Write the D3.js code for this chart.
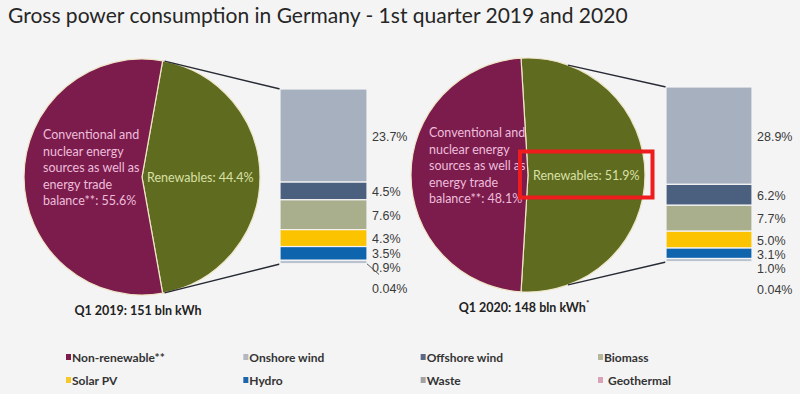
<!DOCTYPE html>
<html>
<head>
<meta charset="utf-8">
<script src="https://cdn.jsdelivr.net/npm/d3@7"></script>
<style>
  body { margin: 0; background: #f4f4f4; }
  svg { display: block; }
</style>
</head>
<body>
<div id="chart"></div>
<script>
// data
var periods = ["Q1 2019", "Q1 2020"];
var totals = ["151 bln kWh", "148 bln kWh"];
var renewables = [44.4, 51.9];
var nonRenewable = [55.6, 48.1];
var sources = ["Onshore wind", "Offshore wind", "Biomass", "Solar PV", "Hydro", "Waste", "Geothermal"];
var share2019 = [23.7, 4.5, 7.6, 4.3, 3.5, 0.9, 0.04];
var share2020 = [28.9, 6.2, 7.7, 5.0, 3.1, 1.0, 0.04];
var shareLabels2019 = ["23.7%", "4.5%", "7.6%", "4.3%", "3.5%", "0.9%", "0.04%"];
var shareLabels2020 = ["28.9%", "6.2%", "7.7%", "5.0%", "3.1%", "1.0%", "0.04%"];
var legendNames = ["Non-renewable**", "Onshore wind", "Offshore wind", "Biomass", "Solar PV", "Hydro", "Waste", "Geothermal"];

var width = 800, height = 394;

var colNonRen = "#7b1c4c", colRen = "#5f6b1f";
var barColors = ["#a6b0bf", "#4b5f7f", "#a9ae8d", "#fbc300", "#0f64ae", "#b9c3cf", "#d8a3b6"];
var legendColors = ["#7b1c4c", "#b4b8be", "#5d6a86", "#b5b79c", "#f6c92a", "#1c65ad", "#a3a3a3", "#d8a3b6"];

var svg = d3.select("#chart").append("svg")
    .attr("width", width)
    .attr("height", height);

svg.append("rect").attr("width", width).attr("height", height).attr("fill", "#f4f4f4");

svg.append("text")
    .attr("x", 8)
    .attr("y", 23)
    .style("font-family", "Lato, 'Open Sans', sans-serif")
    .style("font-size", "21px")
    .style("fill", "#262626")
    .text("Gross power consumption in Germany - 1st quarter 2019 and 2020");

// layout of the two panels
var panels = [
    {cx: 142, cy: 177, r: 118, barX: 280, barW: 87, barTop: 89, connAngle: 11, leader: true, highlight: false, shares: share2019, labels: shareLabels2019, capY: 310},
    {cx: 528, cy: 175, r: 117, barX: 666, barW: 86, barTop: 87, connAngle: 20, leader: false, highlight: true, shares: share2020, labels: shareLabels2020, capY: 307}
];
var barH = 175;

panels.forEach(function(p, i) {
    var g = svg.append("g");
    var total = d3.sum(p.shares);

    // pie, renewables slice centred on the right
    var frac = renewables[i] / 100;
    var start = Math.PI / 2 - frac * Math.PI;
    var pie = d3.pie().sort(null).startAngle(start).endAngle(start + 2 * Math.PI);
    var arcs = pie([renewables[i], nonRenewable[i]]);
    var arc = d3.arc().innerRadius(0).outerRadius(p.r);

    g.selectAll("path.slice")
        .data(arcs)
        .enter().append("path")
        .attr("class", "slice")
        .attr("transform", "translate(" + p.cx + "," + p.cy + ")")
        .attr("d", arc)
        .attr("fill", function(d, k) { return k == 0 ? colRen : colNonRen; })
        .attr("stroke", "#efe6c8")
        .attr("stroke-width", 1.2);

    // stacked bar of renewables
    var y = d3.scaleLinear().domain([0, total]).range([p.barTop, p.barTop + barH]);
    var stack = [];
    var acc = 0;
    p.shares.forEach(function(v, k) {
        stack.push({v: v, y0: acc, y1: acc + v, k: k});
        acc += v;
    });

    // connector lines pie -> bar
    var a = p.connAngle * Math.PI / 180;
    var topPt = [p.cx + p.r * Math.sin(a), p.cy - p.r * Math.cos(a)];
    var botPt = [p.cx + p.r * Math.sin(a), p.cy + p.r * Math.cos(a)];
    g.append("line")
        .attr("x1", topPt[0]).attr("y1", topPt[1])
        .attr("x2", p.barX).attr("y2", y(0))
        .attr("stroke", "#262a33").attr("stroke-width", 1.3);
    g.append("line")
        .attr("x1", botPt[0]).attr("y1", botPt[1])
        .attr("x2", p.barX).attr("y2", y(total))
        .attr("stroke", "#262a33").attr("stroke-width", 1.3);

    g.selectAll("rect.seg")
        .data(stack)
        .enter().append("rect")
        .attr("class", "seg")
        .attr("x", p.barX)
        .attr("width", p.barW)
        .attr("y", function(d) { return y(d.y0); })
        .attr("height", function(d) { return Math.max(0.6, y(d.y1) - y(d.y0)); })
        .attr("fill", function(d) { return barColors[d.k]; })
        .attr("stroke", "#f4f4f4")
        .attr("stroke-width", 1.2);

    // labels: segment centres, pushed down so they do not overlap
    var ly = [];
    stack.forEach(function(d, k) {
        var c = (y(d.y0) + y(d.y1)) / 2 + 5;
        if (k > 0) {
            var gap = (k == stack.length - 1) ? 21 : 14;
            c = Math.max(c, ly[k - 1] + gap);
        }
        ly.push(c);
    });

    g.selectAll("text.lab")
        .data(stack)
        .enter().append("text")
        .attr("class", "lab")
        .attr("x", p.barX + p.barW + 5)
        .attr("y", function(d, k) { return ly[k]; })
        .style("font-family", "'Liberation Sans', Arial, sans-serif")
        .style("font-size", "12.5px")
        .style("fill", "#3a3a3a")
        .text(function(d, k) { return p.labels[k]; });

    if (p.leader) {
        var w = stack[stack.length - 2];
        g.append("line")
            .attr("x1", p.barX + p.barW).attr("y1", y(w.y1))
            .attr("x2", p.barX + p.barW + 12).attr("y2", ly[ly.length - 2] + 2)
            .attr("stroke", "#555").attr("stroke-width", 1);
    }

    // text inside the pie
    var nonRenLines = ["Conventional and", "nuclear energy", "sources as well as", "energy trade", "balance**: " + d3.format(".1f")(nonRenewable[i]) + "%"];
    g.selectAll("text.nr")
        .data(nonRenLines)
        .enter().append("text")
        .attr("class", "nr")
        .attr("x", p.cx - 99)
        .attr("y", function(d, k) { return p.cy - 38 + k * 16.5; })
        .style("font-family", "Lato, 'Open Sans', sans-serif")
        .style("font-size", "12.5px")
        .style("fill", "#eebddb")
        .text(function(d) { return d; });

    var renLab = g.append("text")
        .attr("x", p.cx + 5)
        .attr("y", p.cy + 5)
        .style("font-family", "Lato, 'Open Sans', sans-serif")
        .style("font-size", "12.5px")
        .style("fill", "#d9e0a6")
        .text("Renewables: " + d3.format(".1f")(renewables[i]) + "%");

    if (p.highlight) {
        var bb = renLab.node().getBBox();
        g.append("rect")
            .attr("x", bb.x - 13)
            .attr("y", bb.y + bb.height / 2 - 24)
            .attr("width", bb.width + 26)
            .attr("height", 46)
            .attr("fill", "none")
            .attr("stroke", "#ee1c1c")
            .attr("stroke-width", 4);
    }

    // caption under the pie
    var cap = g.append("text")
        .attr("x", p.cx - 4)
        .attr("y", p.capY + 5)
        .attr("text-anchor", "middle")
        .style("font-family", "Lato, 'Open Sans', sans-serif")
        .style("font-size", "12.5px")
        .style("font-weight", "bold")
        .style("fill", "#222")
        .text(periods[i] + ": " + totals[i]);
    if (i == 1) {
        cap.append("tspan")
            .attr("dy", -6)
            .style("font-size", "8px")
            .text("*");
    }
});

// legend, 4 columns x 2 rows
var legendX = d3.scalePoint().domain([0, 1, 2, 3]).range([66, 598]);
var legendY = d3.scalePoint().domain([0, 1]).range([357, 380]);

var leg = svg.selectAll("g.leg")
    .data(legendNames)
    .enter().append("g")
    .attr("class", "leg")
    .attr("transform", function(d, k) { return "translate(" + legendX(k % 4) + "," + legendY(Math.floor(k / 4)) + ")"; });

leg.append("rect")
    .attr("x", 0).attr("y", -3)
    .attr("width", 5).attr("height", 6)
    .attr("fill", function(d, k) { return legendColors[k]; });

leg.append("text")
    .attr("x", function(d, k) { return k == 7 ? 10 : 6; })
    .attr("y", 4.5)
    .style("font-family", "Lato, 'Open Sans', sans-serif")
    .style("font-size", "12px")
    .style("font-weight", "bold")
    .style("fill", "#333")
    .text(function(d) { return d; });
</script>
</body>
</html>
